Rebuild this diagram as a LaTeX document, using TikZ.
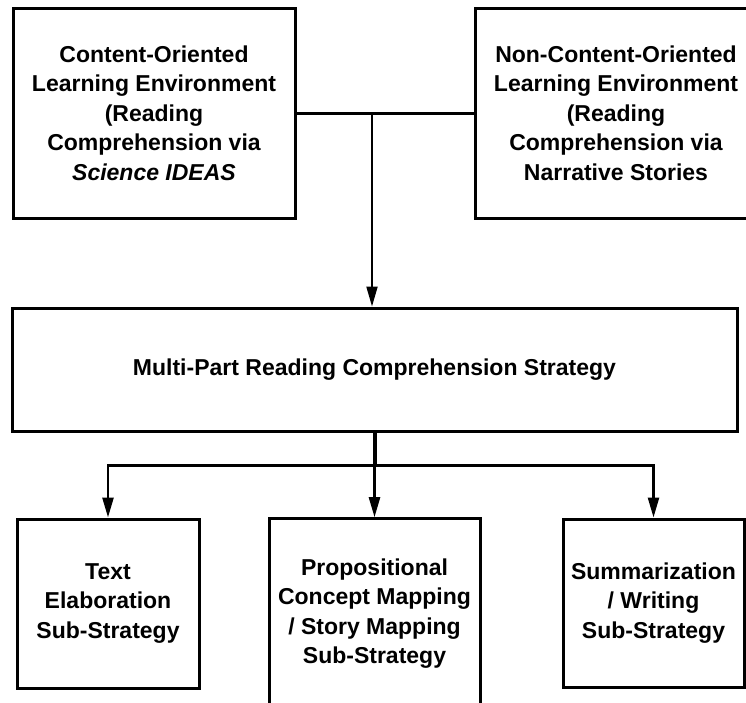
\documentclass[tikz,border=0pt]{standalone}
\usepackage{fontspec}
\setmainfont{Liberation Sans}
\usetikzlibrary{arrows.meta, positioning}

\begin{document}
\begin{tikzpicture}[
    x=1pt, y=-1pt,
    block/.style={rectangle, draw, line width=3pt, inner sep=0pt, align=center,
                  font=\bfseries\fontsize{23}{29.5}\selectfont},
    arr/.style={-{Triangle[length=20pt, width=11pt]}, line width=2.5pt},
    link/.style={line width=3pt}
]
\clip (0,0) rectangle (746,702);
\node[block, minimum width=282pt, minimum height=210pt] (content)    at (154,113)   {Content-Oriented\\Learning Environment\\(Reading\\Comprehension via\\\textit{Science IDEAS}};
\node[block, minimum width=282pt, minimum height=210pt] (noncontent) at (616,113)   {Non-Content-Oriented\\Learning Environment\\(Reading\\Comprehension via\\Narrative Stories};
\node[block, minimum width=725pt, minimum height=123pt] (strategy)   at (374.5,369.5) {Multi-Part Reading Comprehension Strategy};
\node[block, minimum width=182pt, minimum height=169pt] (elab)       at (108,603.5) {Text\\Elaboration\\Sub-Strategy};
\node[block, minimum width=211pt, minimum height=190pt] (mapping)    at (374.5,613.7) {Propositional\\Concept Mapping\\/ Story Mapping\\Sub-Strategy};
\node[block, minimum width=181pt, minimum height=168pt] (summ)       at (653.5,603) {Summarization\\/ Writing\\Sub-Strategy};

\coordinate (split) at (372,114);
\coordinate (fork)  at ([yshift=-33pt]strategy.south);

\draw[link] (content.east) -- (noncontent.west);
\draw[arr, line width=2pt] (split) -- (split |- strategy.north);
\draw[line width=4pt] (strategy.south) -- (fork);
\draw[arr] (fork) -| (elab.north);
\draw[arr] (fork) -- (mapping.north);
\draw[arr] (fork) -| (summ.north);
\end{tikzpicture}
\end{document}
